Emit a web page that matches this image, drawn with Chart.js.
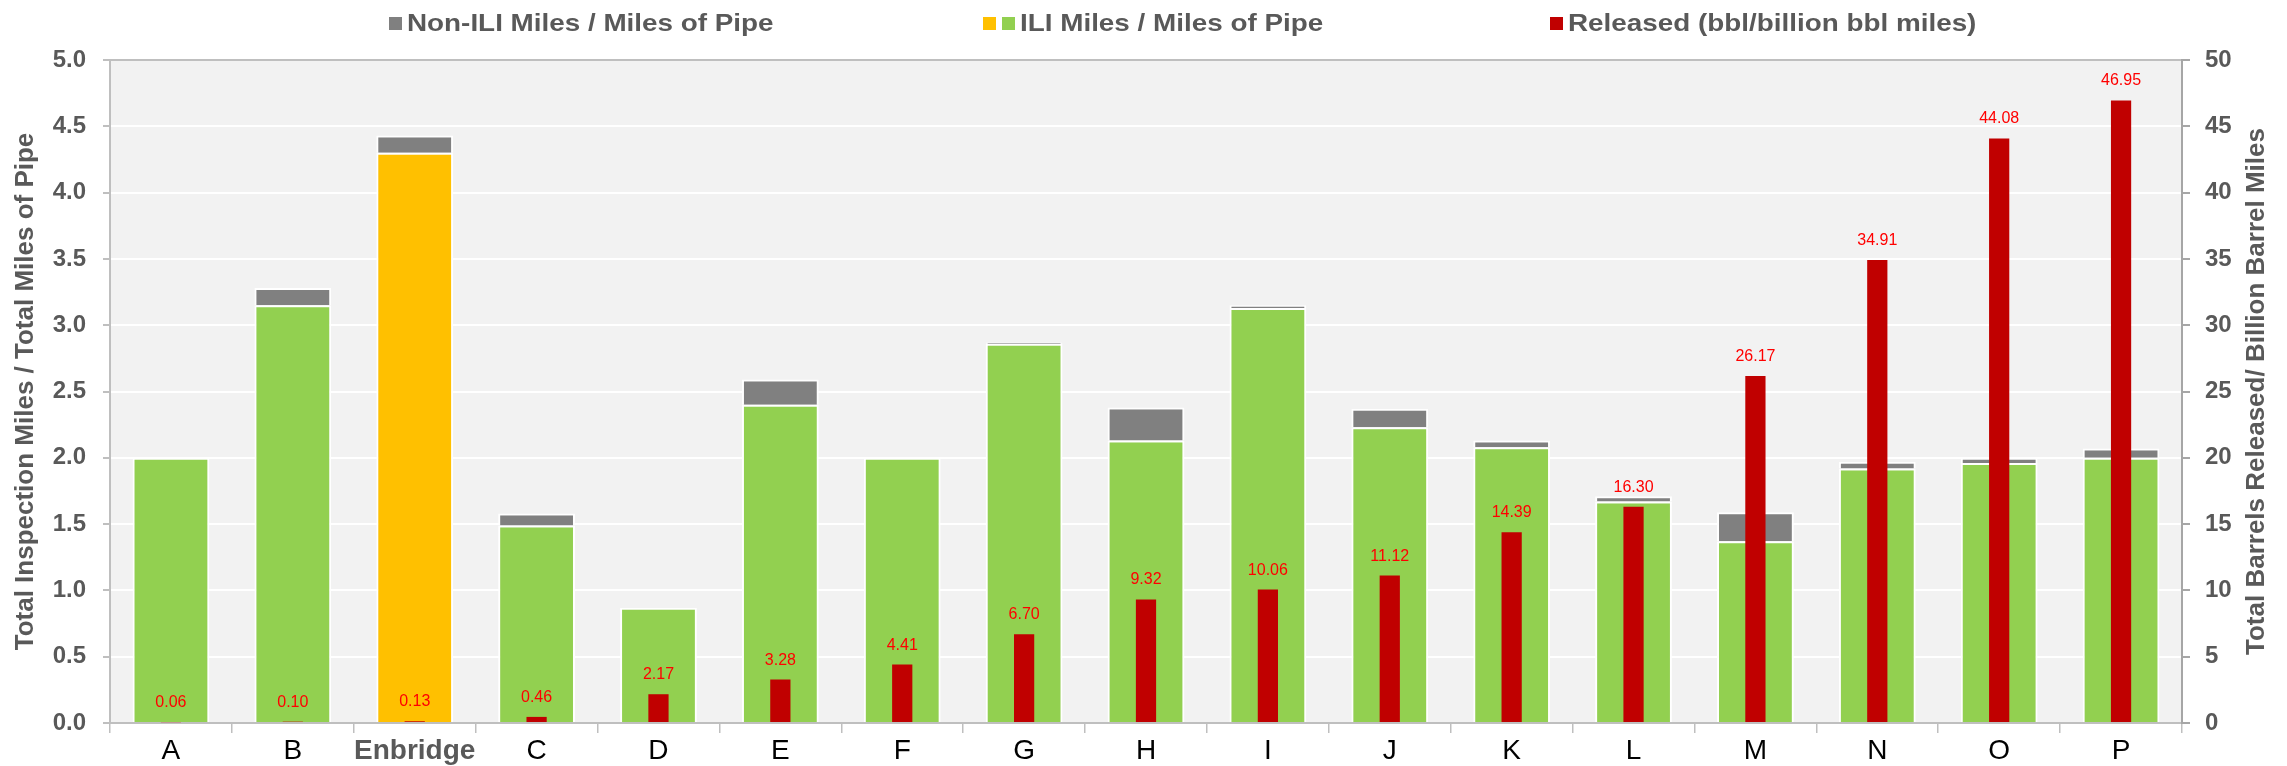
<!DOCTYPE html>
<html>
<head>
<meta charset="utf-8">
<script src="https://cdn.jsdelivr.net/npm/chart.js@4.4.0/dist/chart.umd.min.js"></script>
<style>
  html, body { margin: 0; padding: 0; background: #ffffff; }
</style>
</head>
<body>
<canvas id="pipeChart" width="2287" height="766"></canvas>
<script>
// operators along the x axis, Enbridge highlighted
const categories = ['A', 'B', 'Enbridge', 'C', 'D', 'E', 'F', 'G', 'H', 'I', 'J', 'K', 'L', 'M', 'N', 'O', 'P'];
const highlighted = 'Enbridge';

// left axis: inspection miles / miles of pipe (stacked)
const iliRatio    = [2.00, 3.15, 4.30, 1.49, 0.87, 2.40, 2.00, 2.86, 2.13, 3.13, 2.23, 2.08, 1.67, 1.37, 1.92, 1.96, 2.00];
const nonIliRatio = [0.00, 0.13, 0.13, 0.09, 0.00, 0.19, 0.00, 0.01, 0.25, 0.02, 0.14, 0.05, 0.04, 0.22, 0.05, 0.04, 0.07];

// right axis: barrels released per billion barrel miles
const released = [0.06, 0.10, 0.13, 0.46, 2.17, 3.28, 4.41, 6.70, 9.32, 10.06, 11.12, 14.39, 16.30, 26.17, 34.91, 44.08, 46.95];

const FONT = "'Liberation Sans', Arial, sans-serif";
const TEXT_GRAY = '#595959';
const AXIS_GRAY = '#BFBFBF';
const GREEN = '#92D050';
const YELLOW = '#FFC000';
const GRAY = '#808080';
const RED = '#C00000';

// light gray plot background
const plotBackground = {
    id: 'plotBackground',
    beforeDraw(chart) {
        const { ctx, chartArea: a } = chart;
        ctx.save();
        ctx.fillStyle = '#F2F2F2';
        ctx.fillRect(a.left, a.top, a.width, a.height);
        ctx.restore();
    }
};

// red value labels above the released bars
const releasedLabels = {
    id: 'releasedLabels',
    afterDatasetsDraw(chart) {
        const { ctx } = chart;
        const meta = chart.getDatasetMeta(2);
        ctx.save();
        ctx.font = '16px ' + FONT;
        ctx.fillStyle = '#FF0000';
        ctx.textAlign = 'center';
        ctx.textBaseline = 'alphabetic';
        meta.data.forEach((bar, i) => {
            ctx.fillText(released[i].toFixed(2), bar.x, bar.y - 15);
        });
        ctx.restore();
    }
};

// right axis title reads bottom-to-top, like the left one
const rightTitle = {
    id: 'rightTitle',
    afterDraw(chart) {
        const { ctx, chartArea: a } = chart;
        ctx.save();
        ctx.translate(2257, (a.top + a.bottom) / 2);
        ctx.rotate(-Math.PI / 2);
        ctx.font = 'bold 26px ' + FONT;
        ctx.fillStyle = TEXT_GRAY;
        ctx.textAlign = 'center';
        ctx.textBaseline = 'middle';
        ctx.fillText('Total Barrels Released/ Billion Barrel Miles', 0, 0);
        ctx.restore();
    }
};

// legend drawn by hand (ILI entry has two swatches)
const legendItems = [
    { label: 'Non-ILI Miles / Miles of Pipe', colors: [GRAY], x: 389 },
    { label: 'ILI Miles / Miles of Pipe', colors: [YELLOW, GREEN], x: 983 },
    { label: 'Released (bbl/billion bbl miles)', colors: [RED], x: 1550 }
];

const topLegend = {
    id: 'topLegend',
    afterDraw(chart) {
        const { ctx } = chart;
        ctx.save();
        legendItems.forEach(item => {
            let x = item.x;
            item.colors.forEach(c => {
                ctx.fillStyle = c;
                ctx.fillRect(x, 17, 13, 13);
                x += 19;
            });
            ctx.save();
            ctx.translate(x - 1, 31);
            ctx.scale(1.16, 1);
            ctx.font = 'bold 24px ' + FONT;
            ctx.fillStyle = TEXT_GRAY;
            ctx.textBaseline = 'alphabetic';
            ctx.fillText(item.label, 0, 0);
            ctx.restore();
        });
        ctx.restore();
    }
};

const ctx = document.getElementById('pipeChart');

new Chart(ctx, {
    type: 'bar',
    data: {
        labels: categories,
        datasets: [
            {
                label: 'ILI Miles / Miles of Pipe',
                data: iliRatio,
                yAxisID: 'y',
                backgroundColor: categories.map(c => c === highlighted ? YELLOW : GREEN),
                borderColor: '#FFFFFF',
                borderWidth: 2,
                barPercentage: 0.63,
                categoryPercentage: 1.0,
                order: 2
            },
            {
                label: 'Non-ILI Miles / Miles of Pipe',
                data: nonIliRatio,
                yAxisID: 'y',
                backgroundColor: GRAY,
                borderColor: '#FFFFFF',
                borderWidth: 2,
                barPercentage: 0.63,
                categoryPercentage: 1.0,
                order: 2
            },
            {
                label: 'Released (bbl/billion bbl miles)',
                data: released,
                yAxisID: 'y1',
                backgroundColor: RED,
                borderWidth: 0,
                barPercentage: 0.166,
                categoryPercentage: 1.0,
                order: 1
            }
        ]
    },
    options: {
        responsive: false,
        devicePixelRatio: 1,
        animation: false,
        layout: { padding: { top: 60, left: 0, right: 0, bottom: 0 } },
        plugins: {
            legend: { display: false },
            tooltip: { enabled: false }
        },
        scales: {
            x: {
                stacked: true,
                afterFit: scale => { scale.height = 43; },
                border: { display: true, color: AXIS_GRAY, width: 2 },
                grid: {
                    offset: true,
                    drawOnChartArea: false,
                    drawTicks: true,
                    tickLength: 10,
                    tickColor: AXIS_GRAY,
                    lineWidth: 1.5
                },
                ticks: {
                    padding: 1,
                    autoSkip: false,
                    maxRotation: 0,
                    minRotation: 0,
                    color: c => categories[c.index] === highlighted ? TEXT_GRAY : '#000000',
                    font: c => ({
                        family: FONT,
                        size: 28,
                        weight: categories[c.index] === highlighted ? 'bold' : 'normal'
                    })
                }
            },
            y: {
                position: 'left',
                stacked: true,
                min: 0,
                max: 5,
                afterFit: scale => { scale.width = 110; },
                border: { display: true, color: AXIS_GRAY, width: 2 },
                grid: {
                    color: c => (c.tick.value === 5 || c.tick.value === 0) ? AXIS_GRAY : '#FFFFFF',
                    lineWidth: 2,
                    tickLength: 7,
                    tickColor: AXIS_GRAY
                },
                ticks: {
                    stepSize: 0.5,
                    padding: 17,
                    color: TEXT_GRAY,
                    font: { family: FONT, size: 24, weight: 'bold' },
                    callback: v => v.toFixed(1)
                },
                title: {
                    display: true,
                    text: 'Total Inspection Miles / Total Miles of Pipe',
                    color: TEXT_GRAY,
                    font: { family: FONT, size: 26, weight: 'bold' },
                    padding: { top: 10, bottom: 0 }
                }
            },
            y1: {
                position: 'right',
                stacked: false,
                min: 0,
                max: 50,
                afterFit: scale => { scale.width = 105; },
                border: { display: true, color: '#A6A6A6', width: 2 },
                grid: {
                    drawOnChartArea: false,
                    tickLength: 8,
                    tickColor: '#A6A6A6',
                    lineWidth: 2
                },
                ticks: {
                    stepSize: 5,
                    padding: 15,
                    color: TEXT_GRAY,
                    font: { family: FONT, size: 24, weight: 'bold' }
                }
            }
        }
    },
    plugins: [plotBackground, releasedLabels, rightTitle, topLegend]
});
</script>
</body>
</html>
